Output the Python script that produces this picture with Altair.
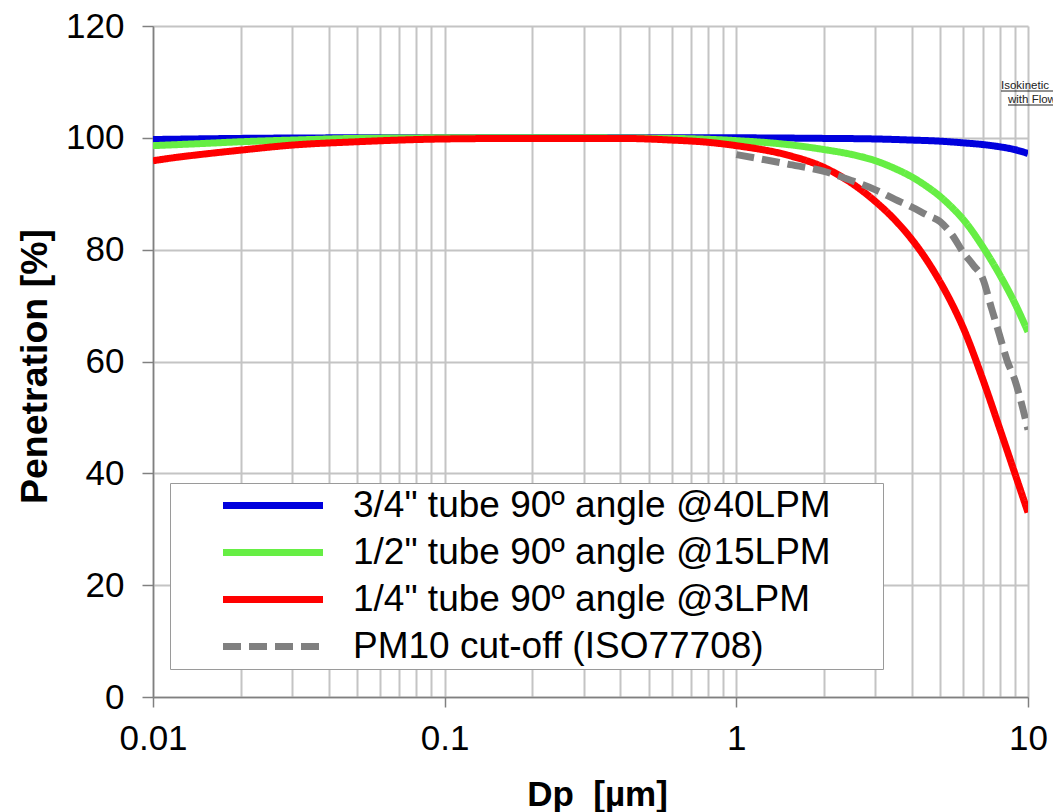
import altair as alt
import pandas as pd

series_names = [
    '3/4" tube 90º angle @40LPM',
    '1/2" tube 90º angle @15LPM',
    '1/4" tube 90º angle @3LPM',
    'PM10 cut-off (ISO77708)',
]
series_colors = ["#0000dd", "#66ee44", "#ff0000", "#808080"]
series_dash = [[1, 0], [1, 0], [1, 0], [18, 8]]

blue_dp = [0.01, 0.02, 0.05, 0.1, 0.3, 1, 2, 3, 4, 5, 6, 7, 8, 9, 10]
blue_pen = [99.7, 99.9, 100, 100, 100, 100, 99.9, 99.8, 99.6, 99.4, 99.1, 98.8, 98.4, 97.9, 97.2]

green_dp = [0.01, 0.015, 0.02, 0.03, 0.05, 0.1, 0.3, 0.6, 1, 1.5, 2, 2.5, 3, 3.5, 4, 4.5, 5, 5.5, 6, 7, 8, 9, 10]
green_pen = [98.6, 99.0, 99.3, 99.6, 99.9, 100, 100, 99.9, 99.5, 98.8, 97.9, 97.0, 95.9, 94.5, 93.0, 91.3, 89.5, 87.5, 85.4, 80.5, 75.5, 70.5, 65.3]

red_dp = [0.01, 0.012, 0.015, 0.02, 0.03, 0.05, 0.07, 0.1, 0.2, 0.4, 0.6, 0.8, 1, 1.5, 2, 2.5, 3, 3.5, 4, 4.5, 5, 5.5, 6, 7, 8, 9, 10]
red_pen = [95.9, 96.5, 97.1, 97.8, 98.7, 99.3, 99.6, 99.8, 99.9, 99.9, 99.6, 99.2, 98.6, 96.9, 94.7, 91.8, 88.6, 85.3, 81.8, 78.1, 74.2, 70.2, 66.0, 56.8, 48.0, 40.1, 33.0]

pm10_dp = [1, 1.5, 2, 2.5, 3, 3.5, 4, 4.5, 5, 5.5, 6, 6.5, 7, 7.5, 8, 8.5, 9, 9.5, 10]
pm10_pen = [97.0, 95.3, 94.0, 92.3, 90.7, 89.0, 87.6, 86.2, 85.0, 82.6, 79.5, 77.2, 74.8, 69.5, 64.6, 60.0, 56.8, 52.5, 47.8]

x_grid_values = [0.01, 0.02, 0.03, 0.04, 0.05, 0.06, 0.07, 0.08, 0.09,
                 0.1, 0.2, 0.3, 0.4, 0.5, 0.6, 0.7, 0.8, 0.9,
                 1, 2, 3, 4, 5, 6, 7, 8, 9, 10]
y_tick_values = [0, 20, 40, 60, 80, 100, 120]

rows = []
for name, dps, pens in zip(series_names,
                           [blue_dp, green_dp, red_dp, pm10_dp],
                           [blue_pen, green_pen, red_pen, pm10_pen]):
    for d, p in zip(dps, pens):
        rows.append({"series": name, "dp": d, "pen": p})
df = pd.DataFrame(rows)

FONT = "Liberation Sans"

legend = alt.Legend(
    title=None,
    orient="none",
    legendX=17,
    legendY=457,
    direction="vertical",
    symbolType="M-4,0H4M47.3,0",
    symbolSize=625,
    symbolStrokeWidth=7,
    symbolOffset=80.5,
    labelOffset=61.5,
    labelFont=FONT,
    labelFontSize=37,
    labelColor="black",
    labelLimit=2000,
    padding=4,
    rowPadding=9,
    strokeColor="#9a9a9a",
    fillColor="white",
)

is_decade = "datum.value == 0.01 || datum.value == 0.1 || datum.value == 1 || datum.value == 10"

x_axis = alt.Axis(
    values=x_grid_values,
    labelExpr="datum.value == 0.01 ? '0.01' : datum.value == 0.1 ? '0.1' : datum.value == 1 ? '1' : datum.value == 10 ? '10' : ''",
    labelFont=FONT,
    labelFontSize=35,
    labelColor="black",
    labelPadding=14,
    labelFlush=False,
    labelOverlap=False,
    tickSize=10,
    tickColor="#808080",
    tickWidth=1.5,
    tickOpacity={"condition": {"test": is_decade, "value": 1}, "value": 0},
    domainColor="#808080",
    domainWidth=1.5,
    grid=True,
    gridColor="#c4c4c4",
    gridWidth=2,
    title="Dp\u00a0\u00a0[µm]",
    titleFont=FONT,
    titleFontSize=35,
    titleFontWeight="bold",
    titleColor="black",
    titleBaseline="alphabetic",
    titleX=444,
    titleY=108,
)

y_axis = alt.Axis(
    values=y_tick_values,
    labelFont=FONT,
    labelFontSize=35,
    labelColor="black",
    labelPadding=18,
    tickSize=11,
    tickColor="#808080",
    tickWidth=1.5,
    domainColor="#808080",
    domainWidth=1.5,
    grid=True,
    gridColor="#c4c4c4",
    gridWidth=2,
    title="Penetration [%]",
    titleFont=FONT,
    titleFontSize=37.5,
    titleFontWeight="bold",
    titleColor="black",
    titleBaseline="middle",
    titleX=-118,
    titleY=340,
)

lines = alt.Chart(df).mark_line(strokeWidth=7, clip=True, interpolate="monotone").encode(
    x=alt.X("dp:Q", scale=alt.Scale(type="log", domain=[0.01, 10], nice=False), axis=x_axis),
    y=alt.Y("pen:Q", scale=alt.Scale(domain=[0, 120], nice=False), axis=y_axis),
    color=alt.Color("series:N", scale=alt.Scale(domain=series_names, range=series_colors),
                    sort=series_names, legend=legend),
    strokeDash=alt.StrokeDash("series:N", scale=alt.Scale(domain=series_names, range=series_dash),
                              sort=series_names, legend=legend),
)

annot1 = alt.Chart(pd.DataFrame({"t": ["Isokinetic"]})).mark_text(
    font=FONT, fontSize=11.5, color="#222222", align="left", baseline="alphabetic"
).encode(text="t:N", x=alt.value(848), y=alt.value(63))
annot2 = alt.Chart(pd.DataFrame({"t": ["with Flow"]})).mark_text(
    font=FONT, fontSize=11.5, color="#222222", align="left", baseline="alphabetic"
).encode(text="t:N", x=alt.value(855), y=alt.value(77))
ul1 = alt.Chart(pd.DataFrame({"a": [0]})).mark_rule(color="#222222", strokeWidth=1).encode(
    x=alt.value(848), x2=alt.value(910), y=alt.value(65))
ul2 = alt.Chart(pd.DataFrame({"a": [0]})).mark_rule(color="#222222", strokeWidth=1).encode(
    x=alt.value(855), x2=alt.value(910), y=alt.value(79))

chart = alt.layer(lines, annot1, annot2, ul1, ul2).properties(
    width=875,
    height=671,
    autosize=alt.AutoSizeParams(type="none"),
    padding={"left": 153, "top": 26, "right": 25, "bottom": 115},
    background="white",
).configure_view(stroke=None)

chart.save("out.html", embed_options={"renderer": "svg", "actions": False})
